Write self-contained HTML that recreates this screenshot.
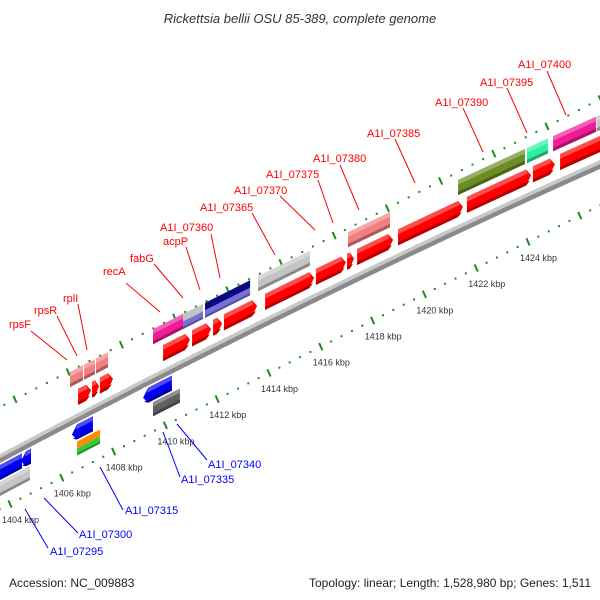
<!DOCTYPE html>
<html><head><meta charset="utf-8"><title>Rickettsia bellii OSU 85-389 genome map</title>
<style>
html,body{margin:0;padding:0;background:#fff;}
svg{display:block;font-family:"Liberation Sans","DejaVu Sans",sans-serif;}
</style></head>
<body>
<svg id="chart" width="600" height="600" viewBox="0 0 600 600" xmlns="http://www.w3.org/2000/svg">
<text x="300" y="23" text-anchor="middle" font-size="13" font-style="italic" fill="#333">Rickettsia bellii OSU 85-389, complete genome</text>
<g id="rulers"></g>
<g id="backbone"></g>
<g id="genes"></g>
<g id="labels"></g>
<text x="9" y="587" font-size="12" fill="#222">Accession: NC_009883</text>
<text x="591" y="587" font-size="12" fill="#222" text-anchor="end">Topology: linear; Length: 1,528,980 bp; Genes: 1,511</text>
</svg>
<script>
// ---- data (kbp) ----
const fwdStart = [1406.63,1407.17,1407.47,1409.91,1411.03,1411.84,1412.26,1413.85,1415.81,1417.01,1417.40,1418.98,1421.64,1424.19,1425.24];
const fwdEnd   = [1407.13,1407.44,1407.98,1410.95,1411.76,1412.19,1413.54,1415.74,1416.97,1417.28,1418.79,1421.49,1424.12,1425.04,1427.36];
const upFeatStart = [1406.32,1406.86,1407.32,1409.52,1410.68,1411.53,1413.58,1417.05,1421.30,1423.96,1424.97,1426.66];
const upFeatEnd   = [1406.82,1407.28,1407.78,1410.76,1411.45,1413.27,1415.58,1418.67,1423.88,1424.77,1426.63,1427.55];
const upFeatColor = ['#f08080','#f08080','#f08080','#ee1c96','#c4c4c4','#0a0a80','#c4c4c4','#f08080','#6b8e23','#2ff0a0','#ee1c96','#c4c4c4'];
const upFeatColor2= [null,null,null,null,'#7a6fd8','#7a6fd8',null,null,null,null,null,null];
const revStart = [1402.84,1404.42,1406.39,1409.14];
const revEnd   = [1404.46,1404.81,1407.20,1410.25];
const lowFeatStart = [1402.84,1406.59,1409.52];
const lowFeatEnd   = [1404.77,1407.47,1410.56];
const lowFeatColor = ['#c4c4c4','#ff8c00','#606060'];
const lowFeatColor2= [null,'#33cc33',null];
const tickKbp = [1404,1406,1408,1410,1412,1414,1416,1418,1420,1422,1424];

// ---- axis functions ----
function xOf(k){ return 10 + (k-1404)*25.9; }
function yb(x){ return 458 - 0.49*x - 7e-5*x*(600-x); }
function P(x,v){ return [x, yb(x)+v]; }
const NS='http://www.w3.org/2000/svg';
function mk(tag, attrs, parent){ const e=document.createElementNS(NS,tag); for(const k in attrs) e.setAttribute(k,attrs[k]); parent.appendChild(e); return e; }
function pts(a){ return a.map(p=>p[0].toFixed(1)+','+p[1].toFixed(1)).join(' '); }
function shade(hex,f){ let r=parseInt(hex.substr(1,2),16),g=parseInt(hex.substr(3,2),16),b=parseInt(hex.substr(5,2),16);
  if(f>0){r=r+(255-r)*f;g=g+(255-g)*f;b=b+(255-b)*f;} else {r=r*(1+f);g=g*(1+f);b=b*(1+f);}
  return 'rgb('+Math.round(r)+','+Math.round(g)+','+Math.round(b)+')'; }

// ---- rulers ----
const rg=document.getElementById('rulers');
function upperY(x){ return 407-0.513*x; }
function lowerY(x){ return 509-0.506*x; }
for(let i=-2;i<60;i++){
  const x=15+i*10.64; if(x<-3||x>603) continue; const y=upperY(x);
  if(i%5===0){ const t=mk('line',{x1:x-1.6,y1:y-3.6,x2:x+1.6,y2:y+3.6,stroke:'#1f8a1f','stroke-width':2},rg);
      }
  else { const d=mk('rect',{x:x-1,y:y-1,width:2,height:2,fill:'#1f8a1f'},rg);
      }
}
for(let i=-3;i<60;i++){
  const k=1404+i*0.4; const x=xOf(k); if(x<-3||x>603) continue; const y=lowerY(x);
  if(i%5===0){ const t=mk('line',{x1:x-1.6,y1:y-3.6,x2:x+1.6,y2:y+3.6,stroke:'#1f8a1f','stroke-width':2},rg);
      }
  else { const d=mk('rect',{x:x-1,y:y-1,width:2,height:2,fill:'#1f8a1f'},rg);
      }
}
tickKbp.forEach(k=>{ const x=xOf(k); const t=mk('text',{x:x-8,y:lowerY(x)+19,'font-size':9,fill:'#333'},rg); t.textContent=k+' kbp';
    });

// ---- backbone ----
const bb=document.getElementById('backbone');
function band(x1,x2,v1,v2,fill,parent){ const a=[],n=12; for(let i=0;i<=n;i++){const x=x1+(x2-x1)*i/n;a.push(P(x,v1));}
  for(let i=n;i>=0;i--){const x=x1+(x2-x1)*i/n;a.push(P(x,v2));} return mk('polygon',{points:pts(a),fill:fill},parent); }
const b1=band(-10,610,-4,0,'#c8c8c8',bb);  
const b2=band(-10,610,0,5,'#8a8a8a',bb);  

// ---- genes ----
const gg=document.getElementById('genes');
function box(x1,x2,vt,vb,c1,c2){
  const g=mk('g',{},gg);
  const h=vb-vt;
  if(!c2){
    mk('polygon',{points:pts([P(x1,vt),P(x2,vt),P(x2,vb),P(x1,vb)]),fill:c1},g);
    mk('polygon',{points:pts([P(x1,vt),P(x2,vt),P(x2,vt+h*0.3),P(x1,vt+h*0.3)]),fill:shade(c1,0.3)},g);
    mk('polygon',{points:pts([P(x1,vb-h*0.22),P(x2,vb-h*0.22),P(x2,vb),P(x1,vb)]),fill:shade(c1,-0.3)},g);
  } else {
    const m=vt+h/2;
    mk('polygon',{points:pts([P(x1,vt),P(x2,vt),P(x2,m),P(x1,m)]),fill:c1},g);
    mk('polygon',{points:pts([P(x1,m),P(x2,m),P(x2,vb),P(x1,vb)]),fill:c2},g);
    mk('polygon',{points:pts([P(x1,vb-h*0.15),P(x2,vb-h*0.15),P(x2,vb),P(x1,vb)]),fill:shade(c2,-0.3)},g);
  }
  return g;
}
function arrow(x1,x2,vt,vb,c,dir){
  const g=mk('g',{},gg); const vm=(vt+vb)/2; const hd=Math.min(5,(x2-x1)*0.6);
  let poly;
  if(dir>0) poly=[P(x1,vt),P(x2-hd,vt),P(x2,vm),P(x2-hd,vb),P(x1,vb)];
  else poly=[P(x1+hd,vt),P(x2,vt),P(x2,vb),P(x1+hd,vb),P(x1,vm)];
  mk('polygon',{points:pts(poly),fill:c},g);
  const h=vb-vt, vs=vt+h*0.3;
  let top;
  if(dir>0) top=[P(x1,vt),P(x2-hd,vt),P(x2-hd*0.7,vs),P(x1,vs)];
  else top=[P(x1+hd,vt),P(x2,vt),P(x2,vs),P(x1+hd*0.7,vs)];
  mk('polygon',{points:pts(top),fill:shade(c,0.3)},g);
  let bot;
  if(dir>0) bot=[P(x1,vb-h*0.2),P(x2-hd*0.2,vb-h*0.2),P(x2-hd,vb),P(x1,vb)];
  else bot=[P(x1+hd*0.2,vb-h*0.2),P(x2,vb-h*0.2),P(x2,vb),P(x1+hd,vb)];
  mk('polygon',{points:pts(bot),fill:shade(c,-0.3)},g);
  return g;
}
for(let i=0;i<upFeatStart.length;i++){
  const g=box(xOf(upFeatStart[i]),xOf(upFeatEnd[i]),-49,-34,upFeatColor[i],upFeatColor2[i]);
  
  
}
for(let i=0;i<fwdStart.length;i++){
  const g=arrow(xOf(fwdStart[i]),xOf(fwdEnd[i]),-28,-12,'#ff0000',1);
  
  
}
for(let i=0;i<revStart.length;i++){
  const g=arrow(xOf(revStart[i]),xOf(revEnd[i]),7,22,'#0000ee',-1);
  
  
}
for(let i=0;i<lowFeatStart.length;i++){
  const g=box(xOf(lowFeatStart[i]),xOf(lowFeatEnd[i]),24,38,lowFeatColor[i],lowFeatColor2[i]);
  
  
}
</script>
<script>
// ---- labels ----
const lg=document.getElementById('labels');
const labelText=['rpsF','rpsR','rplI','recA','fabG','acpP','A1I_07360','A1I_07365','A1I_07370','A1I_07375','A1I_07380','A1I_07385','A1I_07390','A1I_07395','A1I_07400',
 'A1I_07340','A1I_07335','A1I_07315','A1I_07300','A1I_07295'];
const labelLayout=[[9,328,31,331,67,360],[34,314,57,316,77,356],[63,302,78,304,87,350],[103,275,126,283,160,312],[130,262,154,264,183,298],[163,245,186,247,200,290],
 [160,231,211,234,220,278],[200,211,252,213,275,255],[234,194,280,196,315,230],[266,178,318,180,333,223],[313,162,340,165,359,210],[367,137,395,139,415,183],
 [435,106,463,108,483,152],[480,86,507,88,527,133],[518,68,547,71,566,115],
 [208,468,177,424,207,460],[181,483,163,432,180,477],[125,514,100,467,123,510],[79,538,44,498,78,533],[50,555,25,509,48,548]];
labelText.forEach((t,i)=>{
  const L=labelLayout[i]; const col=i<15?'#ff0000':'#0000ff';
  const ln=mk('line',{x1:L[2],y1:L[3],x2:L[4],y2:L[5],stroke:col,'stroke-width':1},lg);
  
  
  const tx=mk('text',{x:L[0],y:L[1],'font-size':11,fill:col},lg); tx.textContent=t;
  
  
});
</script>
</body></html>
